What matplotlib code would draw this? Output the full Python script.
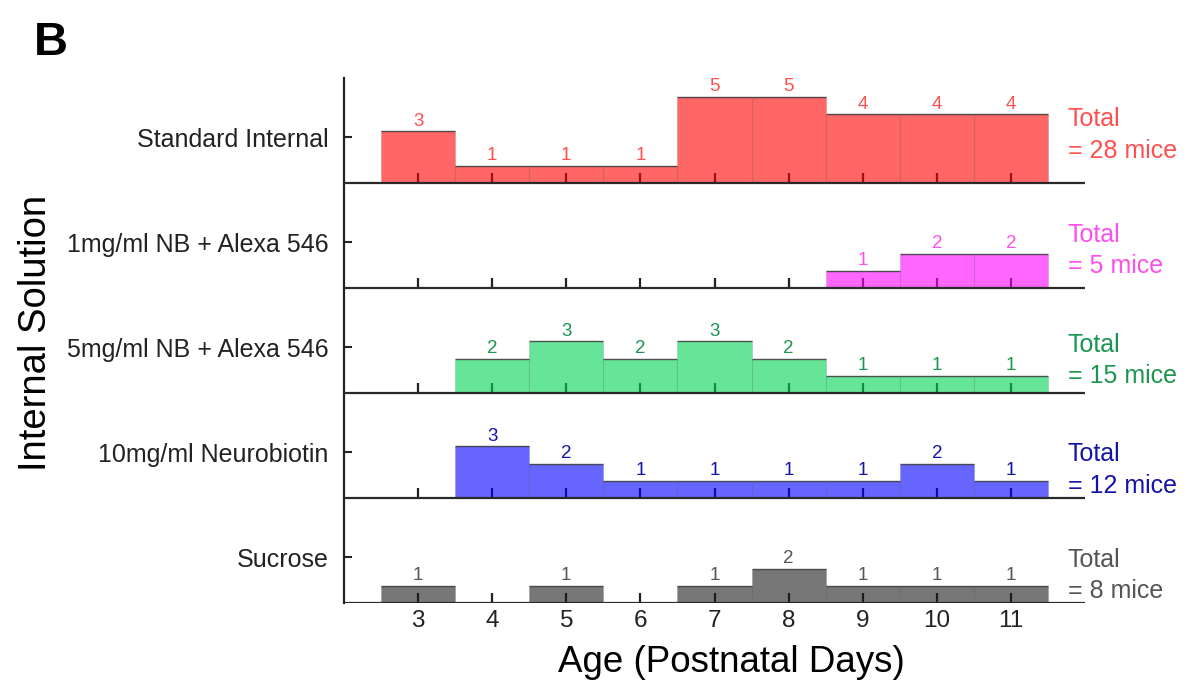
import matplotlib
matplotlib.use("Agg")
import matplotlib.pyplot as plt
import numpy as np

plt.rcParams['font.family'] = ['Liberation Sans', 'DejaVu Sans']

# ---- data ----
ages = [3, 4, 5, 6, 7, 8, 9, 10, 11]
solutions = ["Standard Internal", "1mg/ml NB + Alexa 546", "5mg/ml NB + Alexa 546",
             "10mg/ml Neurobiotin", "Sucrose"]
counts_standard = [3, 1, 1, 1, 5, 5, 4, 4, 4]
counts_nb1 = [0, 0, 0, 0, 0, 0, 1, 2, 2]
counts_nb5 = [0, 2, 3, 2, 3, 2, 1, 1, 1]
counts_neuro10 = [0, 3, 2, 1, 1, 1, 1, 2, 1]
counts_sucrose = [1, 0, 1, 0, 1, 2, 1, 1, 1]
totals = [28, 5, 15, 12, 8]

all_counts = [counts_standard, counts_nb1, counts_nb5, counts_neuro10, counts_sucrose]

# ---- styles ----
bar_colors = [(1, 0, 0), (1, 0, 1), (0, 0.835, 0.33), (0, 0, 1), (0.11, 0.11, 0.11)]
text_colors = ['#FF4F4F', '#FF4FEA', '#1A9650', '#1414A8', '#555555']
row_step = 6.1
label_offset = 2.65
total_offsets = [(3.31, 1.45), (2.67, 0.87), (2.38, 0.58), (2.15, 0.29), (2.09, 0.29)]

W, H = 1187, 689
fig = plt.figure(figsize=(W / 100, H / 100), dpi=100)
ax = fig.add_axes([344 / W, 1 - 603 / H, (1085 - 344) / W, (603 - 78) / H])

n = len(solutions)
ax.set_xlim(2, 12)
ax.set_ylim(0, n * row_step)

for i, (name, counts) in enumerate(zip(solutions, all_counts)):
    base = (n - 1 - i) * row_step
    # tick marks for each age (under bars)
    ax.vlines(ages, base, base + 0.6, color='#222222', lw=1.6, zorder=1)
    # bars
    xs = [a for a, c in zip(ages, counts) if c > 0]
    hs = [c for c in counts if c > 0]
    face = (*bar_colors[i], 0.6)
    ax.bar(xs, hs, width=1.0, bottom=base, facecolor=face,
           edgecolor=(0, 0, 0, 0.1), linewidth=0.8, zorder=2)
    # top edges
    ax.hlines([base + h for h in hs], [x - 0.5 for x in xs], [x + 0.5 for x in xs],
              color='#3a3a3a', lw=1.0, alpha=0.85, zorder=3)
    # baseline
    ax.hlines(base, 2, 12, color='#2a2a2a', lw=1.6, zorder=4)
    # count labels
    for x, h in zip(xs, hs):
        ax.text(x, base + h + 0.32, str(h), ha='center', va='baseline',
                fontsize=13.5, color=text_colors[i], zorder=5)
    # totals
    o1, o2 = total_offsets[i]
    ax.text(11.77, base + o1, "Total", ha='left', va='baseline', fontsize=18,
            color=text_colors[i], clip_on=False)
    ax.text(11.77, base + o2, f"= {totals[i]} mice", ha='left', va='baseline',
            fontsize=18, color=text_colors[i], clip_on=False)

# y ticks at row label positions
ax.set_yticks([(n - 1 - i) * row_step + label_offset for i in range(n)])
ax.set_yticklabels(solutions, fontsize=18, color='#222222')
ax.tick_params(axis='y', direction='in', length=5.5, width=1.5, color='#222222', pad=11)

# x tick labels
ax.set_xticks(ages)
ax.set_xticklabels([str(a) for a in ages], fontsize=17.5, color='#222222')
ax.tick_params(axis='x', length=0, pad=5)

for s in ['top', 'right', 'bottom']:
    ax.spines[s].set_visible(False)
ax.spines['left'].set_linewidth(1.6)
ax.spines['left'].set_color('#222222')

fig.text(731 / W, 1 - 663 / H, "Age (Postnatal Days)", ha='center', va='center',
         fontsize=26.5, color='black')
fig.text(36 / W, 1 - 333 / H, "Internal Solution", ha='center', va='center',
         rotation=90, fontsize=27.5, color='black')
fig.text(34 / W, 1 - 55 / H, "B", ha='left', va='baseline', fontsize=34,
         fontweight='bold', color='black')

fig.savefig("out.png", dpi=100)
